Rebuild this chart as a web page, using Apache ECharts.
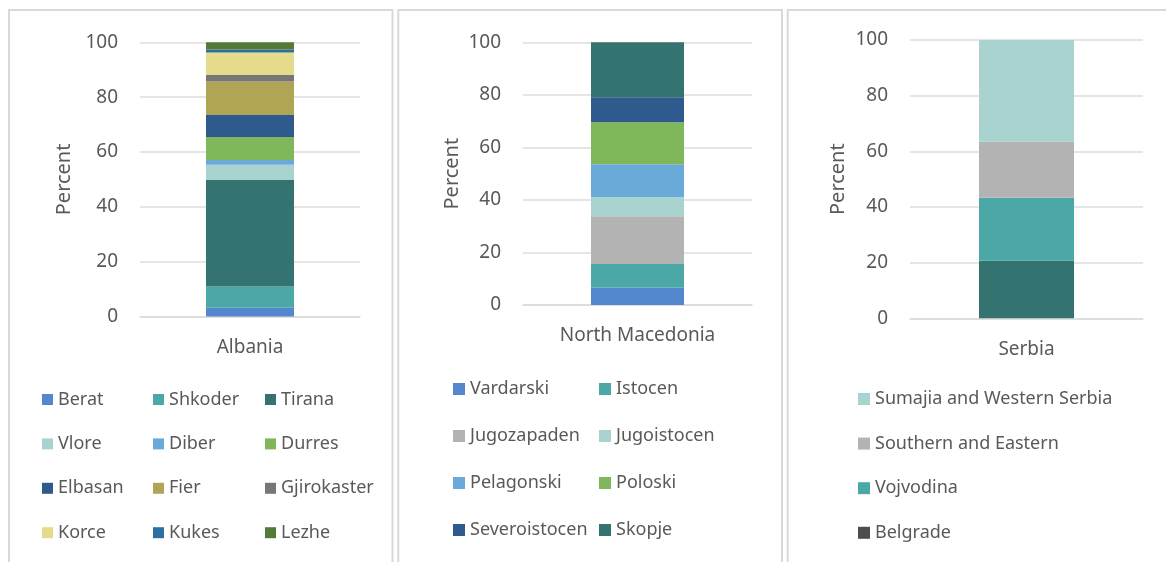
<!DOCTYPE html>
<html>
<head>
<meta charset="utf-8">
<script src="https://cdn.jsdelivr.net/npm/echarts@6/dist/echarts.min.js"></script>
<style>
html,body{margin:0;padding:0;background:#fff;}
#chart{width:1166px;height:562px;}
</style>
</head>
<body>
<div id="chart"></div>
<script>
// ---- Data ----
const countries = ['Albania', 'North Macedonia', 'Serbia'];
const albaniaRegions = ['Berat','Shkoder','Tirana','Vlore','Diber','Durres','Elbasan','Fier','Gjirokaster','Korce','Kukes','Lezhe'];
const albaniaValues = [3.2, 7.7, 38.9, 5.5, 1.8, 8.4, 8.0, 12.2, 2.4, 8.2, 1.1, 2.6];
const macedoniaRegions = ['Vardarski','Istocen','Jugozapaden','Jugoistocen','Pelagonski','Poloski','Severoistocen','Skopje'];
const macedoniaValues = [6.6, 9.0, 18.2, 7.3, 12.5, 16.0, 9.5, 20.9];
const serbiaRegions = ['Belgrade','Vojvodina','Southern and Eastern','Sumajia and Western Serbia'];
const serbiaValues = [20.7, 22.6, 20.1, 36.6];
const yMin = 0, yMax = 100, yStep = 20;
const axisName = 'Percent';

// ---- Styles ----
const albaniaColors = ['#5587cf','#4ba8a7','#357370','#a9d3cf','#6aaadb','#80b75a','#2e5a8e','#b0a555','#777777','#e4dc8a','#2c6fa0','#547a3a'];
const macedoniaColors = ['#5587cf','#4ba8a7','#b3b3b3','#a9d3cf','#6aaadb','#80b75a','#2e5a8e','#357370'];
const serbiaColors = ['#357370','#4ba8a7','#b3b3b3','#a9d3cf'];
const serbiaLegendColors = {'Belgrade':'#4d4d4d'};
const FONT = 'Noto Sans';
const TXT = '#595959';
const GRIDC = '#dcdcdc';

const grids = [
  {left:140, top:42.3, width:220, height:274.2},
  {left:523, top:42.3, width:229, height:262.7},
  {left:910, top:40, width:233, height:278.3}
];
const barWidths = [88, 93, 95];
const nameGaps = [66, 61, 62];
const catMargins = [22, 21, 22];

const xAxes = countries.map((c, i) => ({
  type:'category', gridIndex:i, data:[c],
  axisLine:{show:true, lineStyle:{color:GRIDC, width:1.5}},
  axisTick:{show:false},
  axisLabel:{color:TXT, fontFamily:FONT, fontSize:19, margin:catMargins[i]}
}));
const yAxes = countries.map((c, i) => ({
  type:'value', gridIndex:i, min:yMin, max:yMax, interval:yStep,
  name:axisName, nameLocation:'middle', nameRotate:90, nameGap:nameGaps[i],
  nameTextStyle:{color:TXT, fontFamily:FONT, fontSize:20},
  axisLine:{show:false}, axisTick:{show:false},
  axisLabel:{color:TXT, fontFamily:FONT, fontSize:19, margin:22},
  splitLine:{lineStyle:{color:GRIDC, width:1.5}}
}));

const series = [];
function addSeries(names, values, colors, idx) {
  names.forEach((n, k) => {
    series.push({
      name:n, type:'bar', xAxisIndex:idx, yAxisIndex:idx, stack:'s'+idx,
      barWidth:barWidths[idx], data:[values[k]],
      itemStyle:{color:colors[k]}, emphasis:{disabled:true}
    });
  });
}
addSeries(albaniaRegions, albaniaValues, albaniaColors, 0);
addSeries(macedoniaRegions, macedoniaValues, macedoniaColors, 1);
addSeries(serbiaRegions, serbiaValues, serbiaColors, 2);

function legendCol(items, left, top, gap, size) {
  return {
    orient:'vertical', left:left, top:top, itemGap:gap, padding:0,
    itemWidth:size, itemHeight:size, icon:'rect',
    selectedMode:false,
    textStyle:{color:TXT, fontFamily:FONT, fontSize:18},
    data:items.map(n => serbiaLegendColors[n] ? {name:n, itemStyle:{color:serbiaLegendColors[n]}} : {name:n})
  };
}
const colsOf = (arr, ncol) => Array.from({length:ncol}, (_, c) => arr.filter((_, k) => k % ncol === c));
const aCols = colsOf(albaniaRegions, 3);
const mCols = colsOf(macedoniaRegions, 2);
const legends = [
  legendCol(aCols[0], 42, 390.5, 26.4, 11),
  legendCol(aCols[1], 153, 390.5, 26.4, 11),
  legendCol(aCols[2], 265, 390.5, 26.4, 11),
  legendCol(mCols[0], 453, 380, 29, 12),
  legendCol(mCols[1], 599, 380, 29, 12),
  legendCol(serbiaRegions.slice().reverse(), 858, 390, 26.6, 12)
];

const panelRect = (x, w) => ({
  type:'rect', shape:{x:x, y:10, width:w, height:620},
  style:{fill:'none', stroke:'#d9d9d9', lineWidth:2}, silent:true, z:-10
});

const chart = echarts.init(document.getElementById('chart'), null, {renderer:'canvas'});
chart.setOption({
  animation:false,
  backgroundColor:'#ffffff',
  graphic:[panelRect(9, 383.5), panelRect(398.3, 383.7), panelRect(787.7, 420)],
  grid:grids,
  xAxis:xAxes,
  yAxis:yAxes,
  legend:legends,
  series:series
});
</script>
</body>
</html>
